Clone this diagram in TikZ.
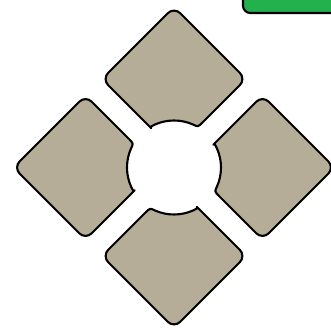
\documentclass[tikz,border=0pt]{standalone}
\usepackage{xcolor}
\usepackage{tikz}
\definecolor{padfill}{RGB}{181,173,151}
\definecolor{tabgreen}{RGB}{34,177,76}

\begin{document}
\begin{tikzpicture}[x=0.03cm,y=0.03cm,
  pad/.style={draw=black,fill=padfill,line width=1.8pt,line join=round}]
  \useasboundingbox (0,0) rectangle (331,329);
  \node[draw=black,fill=tabgreen,line width=1.8pt,rounded corners=2.2mm,minimum width=3.42cm,minimum height=1.44cm,inner sep=0pt] (tab) at (300,340) {};
  \foreach \ang in {0,90,180,270}{
    \begin{scope}[shift={(174,161.5)},rotate=\ang]
      \draw[pad] (66:47) .. controls (24,40.5) .. (29,45.5)
        [rounded corners=2.6mm] -- (72,88.5) -- (0,160.5) -- (-72,88.5) -- (-29,45.5)
        [sharp corners] .. controls (-24,40.5) .. (114:47)
        arc[start angle=114,end angle=66,radius=47] -- cycle;
    \end{scope}
  }
\end{tikzpicture}
\end{document}
